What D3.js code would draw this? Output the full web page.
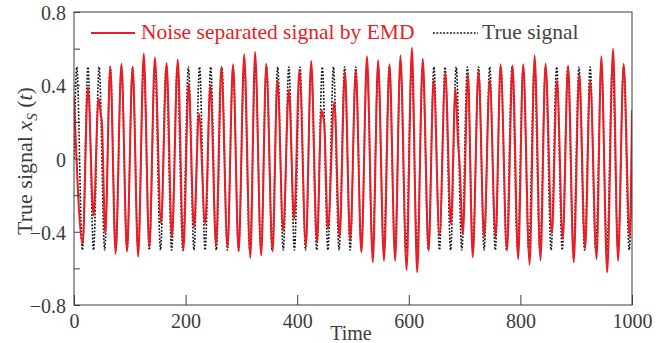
<!DOCTYPE html>
<html>
<head>
<meta charset="utf-8">
<script src="https://cdn.jsdelivr.net/npm/d3@7"></script>
<style>
  html, body { margin: 0; padding: 0; background: #fff; }
  svg { display: block; font-family: "Liberation Serif", "Times New Roman", serif; }
</style>
</head>
<body>
<svg id="chart" width="665" height="343"></svg>
<script>
// EMD-separated signal: turning points (time, amplitude) of the red curve
const emdTimes = [
  0, 15.5, 25, 35, 44, 48, 50, 56, 65, 74.5, 85, 95, 105, 115, 125, 135, 145, 156, 166, 175.5,
  186, 196, 205.5, 215, 224, 235, 244.5, 254.5, 264, 275, 285, 295, 305, 316, 324.5, 335.5,
  344.5, 356, 364.5, 375, 385, 394.5, 404, 415.5, 425, 435.5, 443.5, 447, 448.5, 455, 466.5,
  476, 485.5, 495, 505, 515, 525, 535.5, 545, 555.5, 565.5, 575.5, 585, 596, 605.5, 615, 625,
  635.5, 644.5, 655, 665.5, 675.5, 683.5, 688.5, 690.5, 697, 706, 714.5, 725, 735, 745, 755.5,
  764.5, 776, 786, 796, 805, 816.5, 825.5, 836, 845, 856.5, 865.5, 876, 885.5, 895.5, 905.5,
  916, 925, 936.5, 945, 955.5, 966, 975, 985, 996, 1000
];
const emdValues = [
  0.335, -0.467, 0.39, -0.312, 0.327, 0.24, 0.20, -0.41, 0.503, -0.52, 0.518, -0.508, 0.50, -0.536, 0.573, -0.485, 0.551, -0.354, 0.521, -0.43,
  0.54, -0.503, 0.41, -0.375, 0.244, -0.354, 0.40, -0.476, 0.50, -0.485, 0.514, -0.508, 0.569, -0.543, 0.582, -0.53,
  0.518, -0.508, 0.427, -0.394, 0.376, -0.33, 0.485, -0.48, 0.532, -0.458, 0.263, 0.22, 0.19, -0.385, 0.308,
  -0.43, 0.472, -0.449, 0.48, -0.512, 0.558, -0.567, 0.536, -0.558, 0.514, -0.558, 0.563, -0.609, 0.605, -0.622, 0.545,
  -0.503, 0.43, -0.421, 0.467, -0.357, 0.381, 0.07, 0.0, -0.412, 0.462, -0.54, 0.481, -0.43, 0.43, -0.43,
  0.514, -0.503, 0.508, -0.549, 0.514, -0.58, 0.563, -0.555, 0.518, -0.409, 0.427, -0.44, 0.508, -0.567, 0.463,
  -0.494, 0.427, -0.549, 0.558, -0.622, 0.60, -0.558, 0.518, -0.43, 0.263
];

// True signal: turning points (time, amplitude)
const trueTimes = [
  0, 5, 15, 25, 35, 45, 55, 65, 75, 85, 95, 105, 115, 125, 135, 145, 155, 165, 175, 185, 195,
  205, 215, 225, 235, 245, 255, 265, 275, 285, 295, 305, 315, 325, 335, 345, 355, 365, 375, 385, 395,
  405, 415, 425, 435, 445, 455, 465, 475, 485, 495, 505, 515, 525, 535, 545, 555, 565, 575, 585, 595,
  605, 615, 625, 635, 645, 655, 665, 675, 685, 695, 705, 715, 725, 735, 745, 755, 765, 775, 785, 795,
  805, 815, 825, 835, 845, 855, 865, 875, 885, 895, 905, 915, 925, 935, 945, 955, 965, 975, 985, 995, 1000
];
const trueValues = [
  0, 0.5, -0.5, 0.5, -0.5, 0.5, -0.5, 0.5, -0.5, 0.5, -0.5, 0.5, -0.5, 0.5, -0.5, 0.5, -0.5, 0.5, -0.5, 0.5, -0.5,
  0.5, -0.5, 0.5, -0.5, 0.5, -0.5, 0.5, -0.5, 0.5, -0.5, 0.5, -0.5, 0.5, -0.5, 0.5, -0.5, 0.5, -0.5, 0.5, -0.5,
  0.5, -0.5, 0.5, -0.5, 0.5, -0.5, 0.5, -0.5, 0.5, -0.5, 0.5, -0.5, 0.5, -0.5, 0.5, -0.5, 0.5, -0.5, 0.5, -0.5,
  0.5, -0.5, 0.5, -0.5, 0.5, -0.5, 0.5, -0.5, 0.5, -0.5, 0.5, -0.5, 0.5, -0.5, 0.5, -0.5, 0.5, -0.5, 0.5, -0.5,
  0.5, -0.5, 0.5, -0.5, 0.5, -0.5, 0.5, -0.5, 0.5, -0.5, 0.5, -0.5, 0.5, -0.5, 0.5, -0.5, 0.5, -0.5, 0.5, -0.5, 0
];

const xTicks = [0, 200, 400, 600, 800, 1000];
const yTicks = [-0.8, -0.6, -0.4, -0.2, 0, 0.2, 0.4, 0.6, 0.8];
const yTickLabels = [-0.8, -0.4, 0, 0.4, 0.8];
const legendLabels = ["Noise separated signal by EMD", "True signal"];

const svg = d3.select("#chart");
const margin = { left: 74, right: 33, top: 12, bottom: 38 };
const W = 665, H = 343;
const axisColor = "#3c3c3c";
const red = "#ec1c24";

const x = d3.scaleLinear().domain([0, 1000]).range([margin.left, W - margin.right]);
const y = d3.scaleLinear().domain([-0.8, 0.8]).range([H - margin.bottom, margin.top]);

svg.append("defs").append("clipPath").attr("id", "plotClip")
  .append("rect")
  .attr("x", x(0)).attr("y", y(0.8))
  .attr("width", x(1000) - x(0)).attr("height", y(-0.8) - y(0.8));

const line = d3.line()
  .x(d => x(d[0]))
  .y(d => y(d[1]))
  .curve(d3.curveMonotoneX);

const trueData = trueTimes.map((t, i) => [t, trueValues[i]]);
const emdData = emdTimes.map((t, i) => [t, emdValues[i]]);

const plot = svg.append("g").attr("clip-path", "url(#plotClip)");

plot.append("path")
  .datum(trueData)
  .attr("d", line)
  .attr("fill", "none")
  .attr("stroke", "#111")
  .attr("stroke-width", 1.6)
  .attr("stroke-dasharray", "1.8,1.6");

plot.append("path")
  .datum(emdData)
  .attr("d", line)
  .attr("fill", "none")
  .attr("stroke", red)
  .attr("stroke-width", 2)
  .attr("stroke-linejoin", "round");

// Axes with inward ticks
const fmt = d => (d < 0 ? "\u2212" + d3.format("")(Math.abs(d)) : d3.format("")(d));
const xAxis = d3.axisBottom(x).tickValues(xTicks).tickSize(-10).tickPadding(9)
  .tickFormat(d3.format("d"));
const gx = svg.append("g").attr("transform", `translate(0,${y(-0.8)})`).call(xAxis);

const yAxis = d3.axisLeft(y).tickValues(yTicks).tickSize(-6).tickPadding(8)
  .tickFormat(d => yTickLabels.some(v => Math.abs(v - d) < 1e-9) ? fmt(d) : "");
const gy = svg.append("g").attr("transform", `translate(${x(0)},0)`).call(yAxis);

[gx, gy].forEach(g => {
  g.select(".domain").remove();
  g.selectAll(".tick line").attr("stroke", axisColor).attr("stroke-width", 1);
  g.selectAll(".tick text")
    .attr("fill", axisColor)
    .style("font-family", "'Liberation Serif', serif")
    .style("font-size", "20px");
});
gy.selectAll(".tick text").attr("dy", "0.38em");
gx.selectAll(".tick text").attr("dy", "0.72em");

// Frame
svg.append("rect")
  .attr("x", x(0)).attr("y", y(0.8))
  .attr("width", x(1000) - x(0)).attr("height", y(-0.8) - y(0.8))
  .attr("fill", "none").attr("stroke", axisColor).attr("stroke-width", 1);

// Axis titles
svg.append("text")
  .attr("x", (x(0) + x(1000)) / 2 - 2).attr("y", 340)
  .attr("text-anchor", "middle")
  .attr("fill", axisColor)
  .style("font-size", "20px")
  .text("Time");

const yTitle = svg.append("text")
  .attr("transform", `translate(32,161) rotate(-90)`)
  .attr("text-anchor", "middle")
  .attr("fill", axisColor)
  .style("font-size", "22px");
yTitle.append("tspan").text("True signal ");
yTitle.append("tspan").style("font-style", "italic").text("x");
yTitle.append("tspan").style("font-style", "italic").style("font-size", "15px").attr("dy", 5).text("S");
yTitle.append("tspan").attr("dy", -5).text(" (");
yTitle.append("tspan").style("font-style", "italic").text("t");
yTitle.append("tspan").text(")");

// Legend
const legend = svg.append("g");
legend.append("line")
  .attr("x1", 91).attr("x2", 135).attr("y1", 33).attr("y2", 33)
  .attr("stroke", red).attr("stroke-width", 2);
legend.append("text")
  .attr("x", 141).attr("y", 39)
  .attr("fill", red)
  .style("font-size", "21.5px")
  .text(legendLabels[0]);
legend.append("line")
  .attr("x1", 433).attr("x2", 478).attr("y1", 33).attr("y2", 33)
  .attr("stroke", "#111").attr("stroke-width", 1.6)
  .attr("stroke-dasharray", "1.8,1.6");
legend.append("text")
  .attr("x", 482).attr("y", 39)
  .attr("fill", "#444")
  .style("font-size", "21.5px")
  .text(legendLabels[1]);
</script>
</body>
</html>
